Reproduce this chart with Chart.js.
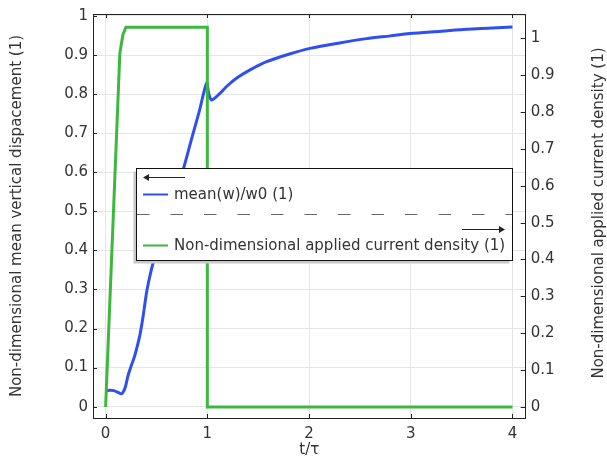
<!DOCTYPE html>
<html>
<head>
<meta charset="utf-8">
<script src="https://cdn.jsdelivr.net/npm/chart.js@4"></script>
<style>
  body { margin: 0; background: #fff; }
</style>
</head>
<body>
<canvas id="c" width="607" height="458"></canvas>
<script>
// mean(w)/w0 (left axis)
var tMean = [0, 0.04, 0.08, 0.12, 0.157, 0.19, 0.222, 0.255, 0.288, 0.337, 0.37, 0.403, 0.436, 0.468, 0.52, 0.6, 0.68, 0.763, 0.85, 0.92, 0.993, 1.015, 1.04, 1.07, 1.124, 1.2, 1.3, 1.42, 1.583, 1.8, 2.01, 2.3, 2.566, 2.8, 2.99, 3.3, 3.55, 3.8, 4.0];
var meanW = [0.04, 0.042, 0.041, 0.037, 0.033, 0.047, 0.081, 0.107, 0.132, 0.183, 0.234, 0.293, 0.335, 0.369, 0.41, 0.47, 0.54, 0.607, 0.69, 0.755, 0.828, 0.80, 0.785, 0.789, 0.802, 0.822, 0.843, 0.862, 0.883, 0.902, 0.917, 0.931, 0.942, 0.949, 0.955, 0.961, 0.966, 0.969, 0.972];

// applied current density (right axis)
var tCurrent = [0, 0.07, 0.14, 0.17, 0.2, 1.0, 1.0, 4.0];
var current = [0, 0.48, 0.96, 1.01, 1.03, 1.03, 0, 0];

var xTicks = [0, 1, 2, 3, 4];
var yTicks = [0, 0.1, 0.2, 0.3, 0.4, 0.5, 0.6, 0.7, 0.8, 0.9, 1];

var blue = '#2f4ff0';
var green = '#3cb83c';
var txt = '#333';

Chart.defaults.font.family = 'DejaVu Sans';
Chart.defaults.font.size = 15;
Chart.defaults.color = txt;

function pts(xs, ys) {
  return xs.map(function(x, i) { return {x: x, y: ys[i]}; });
}

function fmt(v) { return String(+v.toFixed(1)); }

// frame, inner ticks, right title, legend box
var overlay = {
  id: 'overlay',
  afterDatasetsDraw: function(chart) {
    var ctx = chart.ctx;
    var x = 136.5, y = 168.5, w = 376, h = 92;
    ctx.save();
    ctx.fillStyle = '#c8c8c8';
    ctx.fillRect(x - 3, y + 3, w, h);
    ctx.fillStyle = '#fff';
    ctx.fillRect(x, y, w, h);
    ctx.strokeStyle = '#111';
    ctx.lineWidth = 1;
    ctx.strokeRect(x, y, w, h);

    // arrow pointing left (left axis)
    ctx.strokeStyle = '#222';
    ctx.fillStyle = '#222';
    ctx.beginPath(); ctx.moveTo(146, 177.5); ctx.lineTo(185, 177.5); ctx.stroke();
    ctx.beginPath(); ctx.moveTo(143, 177.5); ctx.lineTo(149, 174); ctx.lineTo(149, 181); ctx.closePath(); ctx.fill();

    ctx.lineWidth = 2;
    ctx.strokeStyle = blue;
    ctx.beginPath(); ctx.moveTo(143, 194.5); ctx.lineTo(168, 194.5); ctx.stroke();
    ctx.fillStyle = txt;
    ctx.font = '15px "DejaVu Sans"';
    ctx.textBaseline = 'middle';
    ctx.textAlign = 'left';
    ctx.fillText('mean(w)/w0 (1)', 174, 195);

    // dashed separator
    ctx.lineWidth = 1;
    ctx.strokeStyle = '#666';
    ctx.setLineDash([12.5, 21]);
    ctx.beginPath(); ctx.moveTo(137, 214.5); ctx.lineTo(512, 214.5); ctx.stroke();
    ctx.setLineDash([]);

    // arrow pointing right (right axis)
    ctx.strokeStyle = '#222';
    ctx.fillStyle = '#222';
    ctx.beginPath(); ctx.moveTo(462, 229.5); ctx.lineTo(501, 229.5); ctx.stroke();
    ctx.beginPath(); ctx.moveTo(505, 229.5); ctx.lineTo(499, 226); ctx.lineTo(499, 233); ctx.closePath(); ctx.fill();

    ctx.lineWidth = 2;
    ctx.strokeStyle = green;
    ctx.beginPath(); ctx.moveTo(143, 245.5); ctx.lineTo(168, 245.5); ctx.stroke();
    ctx.fillStyle = txt;
    ctx.fillText('Non-dimensional applied current density (1)', 174, 246);
    ctx.restore();
  },
  afterDraw: function(chart) {
    var ctx = chart.ctx;
    var a = chart.chartArea;
    var sx = chart.scales.x, sy = chart.scales.y, sy1 = chart.scales.y1;
    ctx.save();
    ctx.strokeStyle = '#222';
    ctx.lineWidth = 1;
    ctx.strokeRect(Math.round(a.left) + 0.5, Math.round(a.top) + 0.5, Math.round(a.right - a.left) - 1, Math.round(a.bottom - a.top));
    ctx.beginPath();
    xTicks.forEach(function(v) {
      var px = Math.round(sx.getPixelForValue(v)) + 0.5;
      ctx.moveTo(px, a.bottom); ctx.lineTo(px, a.bottom - 4);
      ctx.moveTo(px, a.top); ctx.lineTo(px, a.top + 4);
    });
    yTicks.forEach(function(v) {
      var py = Math.round(sy.getPixelForValue(v)) + 0.5;
      ctx.moveTo(a.left, py); ctx.lineTo(a.left + 4, py);
      var py1 = Math.round(sy1.getPixelForValue(v)) + 0.5;
      ctx.moveTo(a.right, py1); ctx.lineTo(a.right - 5, py1);
    });
    ctx.stroke();

    ctx.translate(599, (a.top + a.bottom) / 2 - 3);
    ctx.rotate(-Math.PI / 2);
    ctx.fillStyle = txt;
    ctx.font = '15px "DejaVu Sans"';
    ctx.textAlign = 'center';
    ctx.textBaseline = 'middle';
    ctx.fillText('Non-dimensional applied current density (1)', 0, 0);
    ctx.restore();
  }
};

new Chart(document.getElementById('c').getContext('2d'), {
  type: 'line',
  data: {
    datasets: [{
      label: 'Non-dimensional applied current density (1)',
      data: pts(tCurrent, current),
      yAxisID: 'y1',
      borderColor: green,
      borderWidth: 3,
      pointRadius: 0,
      tension: 0
    }, {
      label: 'mean(w)/w0 (1)',
      data: pts(tMean, meanW),
      yAxisID: 'y',
      borderColor: blue,
      borderWidth: 3,
      pointRadius: 0,
      tension: 0.3,
      borderJoinStyle: 'round'
    }]
  },
  options: {
    responsive: false,
    animation: false,
    devicePixelRatio: 1,
    layout: { padding: { top: 12, left: 0, right: 0, bottom: 0 } },
    plugins: { legend: { display: false }, tooltip: { enabled: false } },
    scales: {
      x: {
        type: 'linear',
        min: -0.124, max: 4.13,
        afterBuildTicks: function(s) { s.ticks = xTicks.map(function(v) { return {value: v}; }); },
        afterFit: function(s) { s.height = 40; },
        ticks: { padding: 7, color: txt, callback: function(v) { return String(v); } },
        grid: { color: '#e6e6e6', drawTicks: false },
        border: { display: false },
        title: { display: true, text: 't/τ', color: txt, font: { size: 15, lineHeight: 1 }, padding: 0 }
      },
      y: {
        position: 'left',
        min: -0.029, max: 1.005,
        afterBuildTicks: function(s) { s.ticks = yTicks.map(function(v) { return {value: v}; }); },
        afterFit: function(s) { s.width = 93; },
        ticks: { padding: 5, color: txt, callback: fmt },
        grid: { color: '#e6e6e6', drawTicks: false },
        border: { display: false },
        title: { display: true, text: 'Non-dimensional mean vertical dispacement (1)', color: txt, padding: { top: 8.5, bottom: 0 } }
      },
      y1: {
        position: 'right',
        min: -0.03, max: 1.066,
        afterBuildTicks: function(s) { s.ticks = yTicks.map(function(v) { return {value: v}; }); },
        afterFit: function(s) { s.width = 81.3; },
        ticks: { padding: 5, color: txt, callback: fmt },
        grid: { drawOnChartArea: false, drawTicks: false },
        border: { display: false }
      }
    }
  },
  plugins: [overlay]
});
</script>
</body>
</html>
